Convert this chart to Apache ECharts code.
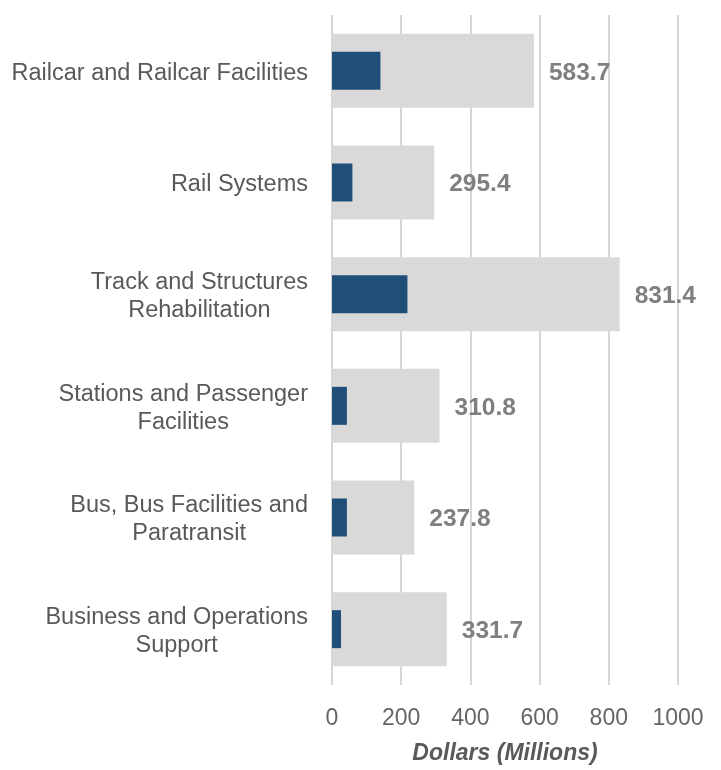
<!DOCTYPE html>
<html>
<head>
<meta charset="utf-8">
<script src="https://cdn.jsdelivr.net/npm/echarts@6/dist/echarts.min.js"></script>
<style>
  html, body { margin: 0; padding: 0; background: #ffffff; }
  #chart { width: 721px; height: 770px; }
</style>
</head>
<body>
<div id="chart"></div>
<script>
// Program categories (top to bottom)
const categories = [
  'Railcar and Railcar Facilities',
  'Rail Systems',
  'Track and Structures\nRehabilitation',
  'Stations and Passenger\nFacilities',
  'Bus, Bus Facilities and\nParatransit',
  'Business and Operations\nSupport'
];
// Total budget per program, $ millions
const totalValues = [583.7, 295.4, 831.4, 310.8, 237.8, 331.7];
// Portion already spent, $ millions
const spentValues = [140, 59, 218, 43, 43, 26];
// Value axis ticks
const xTicks = [0, 200, 400, 600, 800, 1000];
const axisTitle = 'Dollars (Millions)';

const chart = echarts.init(document.getElementById('chart'), null, { renderer: 'canvas' });

const font = '"Liberation Sans", Arial, sans-serif';

chart.setOption({
  animation: false,
  backgroundColor: '#ffffff',
  grid: { left: 332, right: 43, top: 15, bottom: 82, containLabel: false },
  xAxis: {
    type: 'value',
    min: xTicks[0],
    max: xTicks[xTicks.length - 1],
    interval: xTicks[1] - xTicks[0],
    axisLine: { show: false },
    axisTick: { show: false },
    splitLine: { show: true, lineStyle: { color: '#d6d6d6', width: 2 } },
    axisLabel: {
      color: '#666666', fontSize: 23, fontFamily: font, margin: 22,
      formatter: v => String(v)
    },
    name: axisTitle,
    nameLocation: 'middle',
    nameGap: 57,
    nameTextStyle: { color: '#595959', fontSize: 23, fontWeight: 'bold', fontStyle: 'italic', fontFamily: font }
  },
  yAxis: [
    {
      type: 'category',
      data: categories,
      inverse: true,
      axisLine: { show: false },
      axisTick: { show: false },
      splitLine: { show: false },
      axisLabel: {
        margin: 24,
        formatter: v => '{c|' + v + '}',
        rich: {
          c: { color: '#595959', fontSize: 23.5, fontFamily: font, lineHeight: 28, align: 'center', padding: [5, 0, 0, 0] }
        }
      }
    },
    {
      type: 'category',
      data: categories,
      inverse: true,
      show: false
    }
  ],
  series: [
    {
      name: 'Total',
      type: 'bar',
      yAxisIndex: 0,
      data: totalValues,
      barWidth: 74,
      itemStyle: { color: '#d9d9d9' },
      label: {
        show: true,
        position: 'right',
        distance: 15,
        color: '#7f7f7f',
        fontSize: 24.5,
        fontWeight: 'bold',
        fontFamily: font,
        offset: [0, 2],
        formatter: p => p.value.toFixed(1)
      },
      z: 2
    },
    {
      name: 'Spent',
      type: 'bar',
      yAxisIndex: 1,
      data: spentValues,
      barWidth: 38,
      itemStyle: { color: '#1f4e79' },
      z: 3
    }
  ]
});
</script>
</body>
</html>
